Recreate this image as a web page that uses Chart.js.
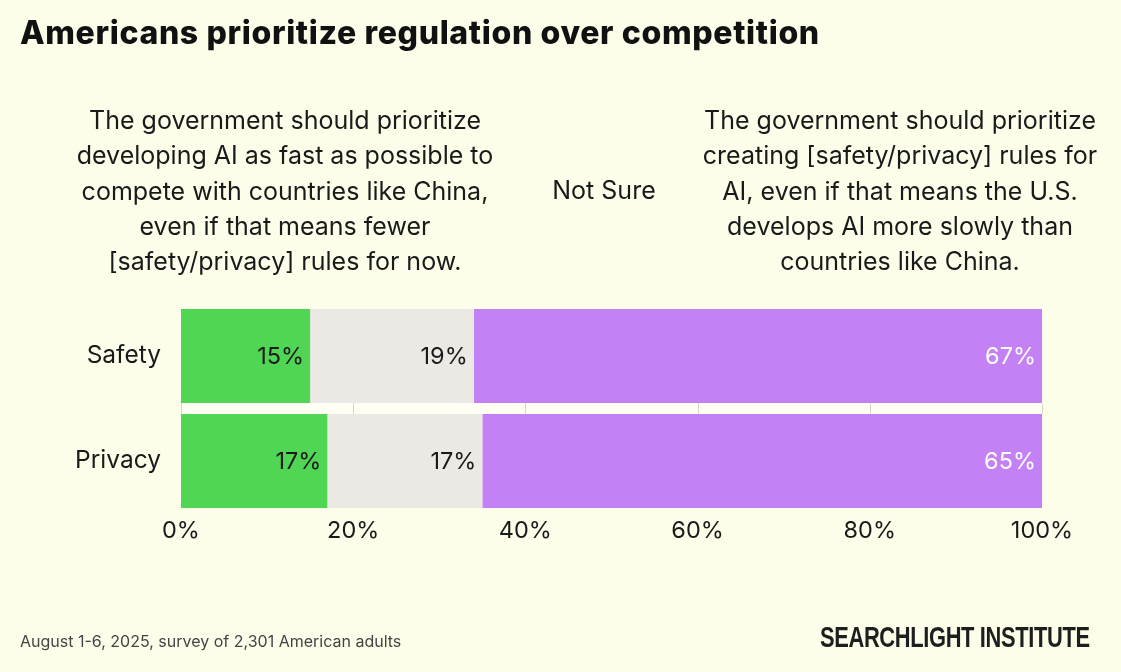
<!DOCTYPE html>
<html>
<head>
<meta charset="utf-8">
<script src="https://cdn.jsdelivr.net/npm/chart.js@4"></script>
<style>
  html, body { margin: 0; padding: 0; background: #fdfee9; }
  body { width: 1121px; height: 672px; position: relative; overflow: hidden; font-family: Inter, "Noto Sans", sans-serif; color: #1a1a1a; }
  #wrap { position: absolute; left: 0; top: 0; width: 1121px; height: 672px; }
  .title { position: absolute; left: 20px; top: 13px; font-size: 32px; font-weight: 800; letter-spacing: 0.65px; color: #111; white-space: nowrap; }
  .head { position: absolute; text-align: center; font-size: 25px; line-height: 35.3px; color: #1a1a1a; white-space: nowrap; }
  .foot { position: absolute; left: 20px; top: 631px; font-size: 16px; color: #444; }
  .logo { position: absolute; left: 820px; top: 619px; font-family: "Liberation Sans", Arial, sans-serif; font-weight: 700; font-size: 30px; line-height: 36px; color: #1e1e1e; white-space: nowrap; transform-origin: 0 0; letter-spacing: -0.5px; }
</style>
</head>
<body>
<div id="wrap"><canvas id="chart"></canvas></div>
<div class="title">Americans prioritize regulation over competition</div>
<div class="head" style="left:35px;width:500px;top:103px">The government should prioritize<br>developing AI as fast as possible to<br>compete with countries like China,<br>even if that means fewer<br>[safety/privacy] rules for now.</div>
<div class="head" style="left:504px;width:200px;top:173px">Not Sure</div>
<div class="head" style="left:650px;width:500px;top:103px">The government should prioritize<br>creating [safety/privacy] rules for<br>AI, even if that means the U.S.<br>develops AI more slowly than<br>countries like China.</div>
<div class="foot">August 1-6, 2025, survey of 2,301 American adults</div>
<div class="logo" id="logo">SEARCHLIGHT INSTITUTE</div>
<script>
const categories = ['Safety', 'Privacy'];
const seriesNames = ['Prioritize speed', 'Not Sure', 'Prioritize rules'];
// bar widths (%)
const speedValues = [15, 17];
const notSureValues = [19, 18];
const rulesValues = [66, 65];
// printed labels
const speedLabels = ['15%', '17%'];
const notSureLabels = ['19%', '17%'];
const rulesLabels = ['67%', '65%'];
const xTicks = [0, 20, 40, 60, 80, 100];

const colors = ['#50d555', '#ece9e5', '#c481f5'];
const labelColors = ['#1a1a1a', '#1a1a1a', '#ffffff'];
const labelSets = [speedLabels, notSureLabels, rulesLabels];

// squeeze the logo to its width in the picture
const logo = document.getElementById('logo');
logo.style.transform = 'scaleX(' + (270 / logo.offsetWidth) + ')';

// light strip and grid lines only in the gap between the two bars
const gapGrid = {
    id: 'gapGrid',
    beforeDatasetsDraw(chart) {
        const {ctx, chartArea} = chart;
        const first = chart.getDatasetMeta(0).data[0];
        const second = chart.getDatasetMeta(0).data[1];
        if (!first || !second) return;
        const top = first.y + first.height / 2;
        const bottom = second.y - second.height / 2;
        ctx.save();
        ctx.fillStyle = '#fffff3';
        ctx.fillRect(chartArea.left, top, chartArea.right - chartArea.left, bottom - top);
        ctx.strokeStyle = '#d8d8c8';
        ctx.lineWidth = 1;
        const xs = chart.scales.x;
        xTicks.forEach(v => {
            const x = Math.round(xs.getPixelForValue(v)) + 0.5;
            ctx.beginPath();
            ctx.moveTo(x, top);
            ctx.lineTo(x, bottom);
            ctx.stroke();
        });
        ctx.restore();
    }
};

const barLabels = {
    id: 'barLabels',
    afterDatasetsDraw(chart) {
        const ctx = chart.ctx;
        ctx.save();
        ctx.font = '23.5px Inter, "Noto Sans", sans-serif';
        ctx.textAlign = 'right';
        ctx.textBaseline = 'middle';
        chart.data.datasets.forEach((ds, i) => {
            chart.getDatasetMeta(i).data.forEach((bar, j) => {
                const right = Math.min(bar.x, chart.chartArea.right);
                ctx.fillStyle = labelColors[i];
                ctx.fillText(labelSets[i][j], right - 6, bar.y + 1);
            });
        });
        ctx.restore();
    }
};

new Chart(document.getElementById('chart'), {
    type: 'bar',
    data: {
        labels: categories,
        datasets: [
            { label: seriesNames[0], data: speedValues, backgroundColor: colors[0] },
            { label: seriesNames[1], data: notSureValues, backgroundColor: colors[1] },
            { label: seriesNames[2], data: rulesValues, backgroundColor: colors[2] }
        ]
    },
    options: {
        indexAxis: 'y',
        responsive: true,
        maintainAspectRatio: false,
        animation: false,
        layout: { padding: { left: 0, right: 79, top: 303.5, bottom: 120 } },
        datasets: { bar: { categoryPercentage: 1, barPercentage: 0.895, borderSkipped: false } },
        plugins: { legend: { display: false }, tooltip: { enabled: false } },
        scales: {
            x: {
                stacked: true,
                min: 0,
                max: 100,
                afterBuildTicks: (scale) => { scale.ticks = xTicks.map(v => ({ value: v })); },
                afterFit: (scale) => { scale.height = 38.5; },
                grid: { display: false, drawTicks: false },
                border: { display: false },
                ticks: {
                    color: '#1a1a1a',
                    padding: 3,
                    font: { family: 'Inter', size: 23.5 },
                    callback: (v) => v + '%'
                }
            },
            y: {
                stacked: true,
                afterFit: (scale) => { scale.width = 181; },
                grid: { display: false, drawTicks: false },
                border: { display: false },
                ticks: {
                    color: '#1a1a1a',
                    padding: 20,
                    font: { family: 'Inter', size: 24.5 }
                }
            }
        }
    },
    plugins: [gapGrid, barLabels]
});
</script>
</body>
</html>
